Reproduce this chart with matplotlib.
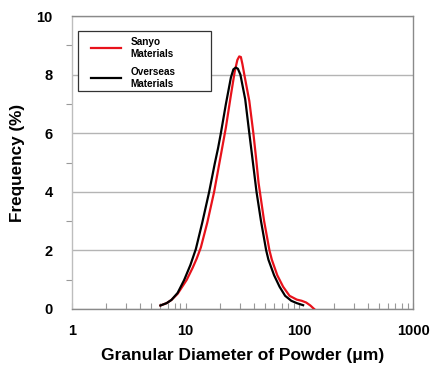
import matplotlib
matplotlib.use("Agg")
import matplotlib.pyplot as plt
from matplotlib.patches import Rectangle
from matplotlib.ticker import LogLocator, NullFormatter, MultipleLocator, FixedLocator

# Data
sanyo_d = [6.0, 6.8, 7.5, 8.5, 10.2, 11.5, 12.5, 13.6, 15.5, 17.8, 20.5, 22.6, 25.0,
           27.0, 28.5, 29.6, 30.6, 31.6, 32.8, 36.3, 39.4, 41.5, 43.8, 49.0, 54.6,
           57.3, 64.0, 72.0, 82.0, 95.0, 105.0, 115.0, 125.0, 135.0]
sanyo_f = [0.12, 0.2, 0.31, 0.52, 0.99, 1.4, 1.72, 2.1, 2.95, 4.0, 5.3, 6.2, 7.3,
           8.1, 8.5, 8.62, 8.6, 8.35, 8.0, 7.1, 6.0, 5.2, 4.3, 3.0, 2.0,
           1.68, 1.15, 0.76, 0.45, 0.32, 0.28, 0.22, 0.12, 0.0]

overseas_d = [6.0, 6.8, 7.5, 8.5, 9.7, 11.0, 12.3, 14.0, 16.1, 18.0, 19.3, 20.4,
              22.6, 25.0, 26.3, 27.6, 28.8, 30.3, 33.4, 36.3, 37.8, 42.0, 46.0,
              51.1, 53.5, 60.0, 67.0, 75.0, 85.0, 95.0, 108.0]
overseas_f = [0.12, 0.2, 0.31, 0.55, 0.99, 1.5, 2.05, 2.95, 4.0, 4.95, 5.5, 6.0,
              7.0, 7.9, 8.18, 8.24, 8.2, 8.0, 7.16, 6.0, 5.45, 4.0, 3.0,
              2.0, 1.68, 1.15, 0.76, 0.45, 0.28, 0.2, 0.13]

series_labels = ["Sanyo\nMaterials", "Overseas\nMaterials"]
x_ticks = [1, 10, 100, 1000]
x_tick_labels = ["1", "10", "100", "1000"]
y_ticks = [0, 2, 4, 6, 8, 10]

plt.rcParams['font.family'] = ['Liberation Sans', 'DejaVu Sans']

fig = plt.figure(figsize=(4.30, 3.67), dpi=100)
ax = fig.add_axes([72/430, 1-309/367, (413-72)/430, (309-16)/367])

ax.plot(sanyo_d, sanyo_f, color='#e8121b', lw=1.6, label=series_labels[0], zorder=3)
ax.plot(overseas_d, overseas_f, color='#000000', lw=1.6, label=series_labels[1], zorder=4)

ax.set_xscale('log')
ax.set_xlim(1, 1000)
ax.set_ylim(0, 10)

ax.xaxis.set_major_locator(FixedLocator(x_ticks))
ax.set_xticklabels(x_tick_labels)
ax.xaxis.set_minor_locator(LogLocator(base=10, subs=range(2, 10)))
ax.xaxis.set_minor_formatter(NullFormatter())
ax.yaxis.set_major_locator(FixedLocator(y_ticks))
ax.yaxis.set_minor_locator(MultipleLocator(1))

ax.tick_params(axis='x', which='both', direction='in', length=4, color='#999999', width=0.8)
ax.tick_params(axis='x', which='major', pad=11)
ax.tick_params(axis='y', which='minor', direction='out', length=4, color='#999999', width=0.8)
ax.tick_params(axis='y', which='major', length=0, pad=14)

for lab in ax.get_xticklabels() + ax.get_yticklabels():
    lab.set_fontweight('bold')
    lab.set_fontsize(10.5)

ax.grid(axis='y', which='major', color='#b4b4b4', lw=1.0)
ax.set_axisbelow(True)
for s in ['top', 'right', 'bottom']:
    ax.spines[s].set_color('#8a8a8a')
    ax.spines[s].set_linewidth(1.0)
ax.spines['left'].set_color('#bdbdbd')
ax.spines['left'].set_linewidth(1.0)

ax.set_xlabel("Granular Diameter of Powder (μm)", fontsize=12.5, fontweight='bold', labelpad=7)
ax.set_ylabel("Frequency (%)", fontsize=12.3, fontweight='bold', labelpad=8)

# legend frame
ax.add_patch(Rectangle((6/341, 1-75/293), 133/341, 60/293, transform=ax.transAxes,
                       facecolor='white', edgecolor='#333333', lw=0.9, zorder=5))
leg = ax.legend(loc='upper left', bbox_to_anchor=(19/341, 1-21/293), borderaxespad=0,
                frameon=False, borderpad=0, handlelength=3.0,
                labelspacing=0.85, handletextpad=0.95, prop={'weight': 'bold', 'size': 7.2})
leg.set_zorder(6)
for t in leg.get_texts():
    t.set_multialignment('left')

fig.savefig("out.png", dpi=100)
